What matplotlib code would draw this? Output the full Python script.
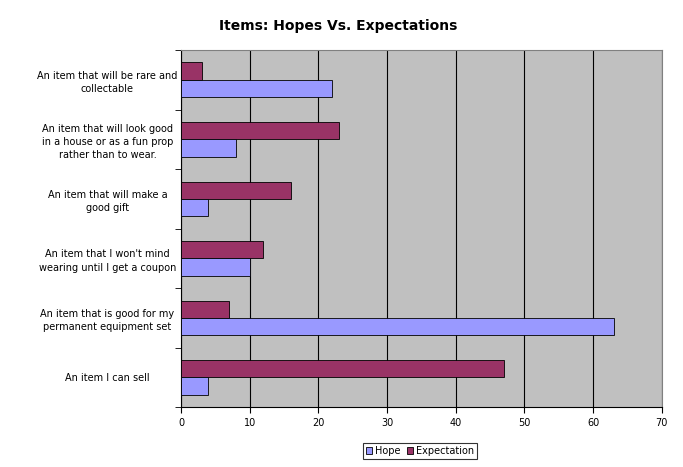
import matplotlib
matplotlib.use("Agg")
import matplotlib.pyplot as plt
import numpy as np

categories = ["An item that will be rare and\ncollectable",
              "An item that will look good\nin a house or as a fun prop\nrather than to wear.",
              "An item that will make a\ngood gift",
              "An item that I won't mind\nwearing until I get a coupon",
              "An item that is good for my\npermanent equipment set",
              "An item I can sell"]
hope = [22, 8, 4, 10, 63, 4]
expectation = [3, 23, 16, 12, 7, 47]
xticks = [0, 10, 20, 30, 40, 50, 60, 70]

fig = plt.figure(figsize=(6.83, 4.67), dpi=100)
ax = fig.add_axes([0.265, 0.128, 0.704, 0.765])
ax.set_facecolor("#C0C0C0")
y = np.arange(len(categories))
h = 0.29
ax.barh(y - h/2, expectation, height=h, color="#993366", edgecolor="black", linewidth=0.6, label="Expectation", zorder=3)
ax.barh(y + h/2, hope, height=h, color="#9999FF", edgecolor="black", linewidth=0.6, label="Hope", zorder=3)
ax.set_ylim(len(categories) - 0.5, -0.5)
ax.set_xlim(0, 70)
ax.set_xticks(xticks)
ax.set_xticklabels([str(t) for t in xticks], fontsize=7)
ax.set_yticks(y)
ax.set_yticklabels(categories, fontsize=7, ha="center", linespacing=1.4)
ax.tick_params(axis="y", length=0, pad=53)
ax.set_yticks(np.arange(-0.5, len(categories)), minor=True)
ax.tick_params(axis="y", which="minor", length=4, direction="out")
ax.tick_params(axis="x", length=4, direction="out", labelsize=7)
ax.grid(axis="x", color="black", linewidth=0.8, zorder=1)
for s in ax.spines.values():
    s.set_color("#808080")
ax.spines["left"].set_color("black")
ax.spines["bottom"].set_color("black")
fig.text(0.495, 0.945, "Items: Hopes Vs. Expectations", ha="center", va="center", fontsize=10, fontweight="bold")
handles, labels = ax.get_legend_handles_labels()
leg = fig.legend(handles[::-1], labels[::-1], loc="center", bbox_to_anchor=(0.615, 0.035), ncol=2,
                 fontsize=7, frameon=True, fancybox=False, edgecolor="black", handlelength=0.7,
                 handleheight=0.7, handletextpad=0.3, columnspacing=0.6, borderpad=0.3)
leg.get_frame().set_linewidth(0.8)
fig.savefig("out.png", dpi=100)
